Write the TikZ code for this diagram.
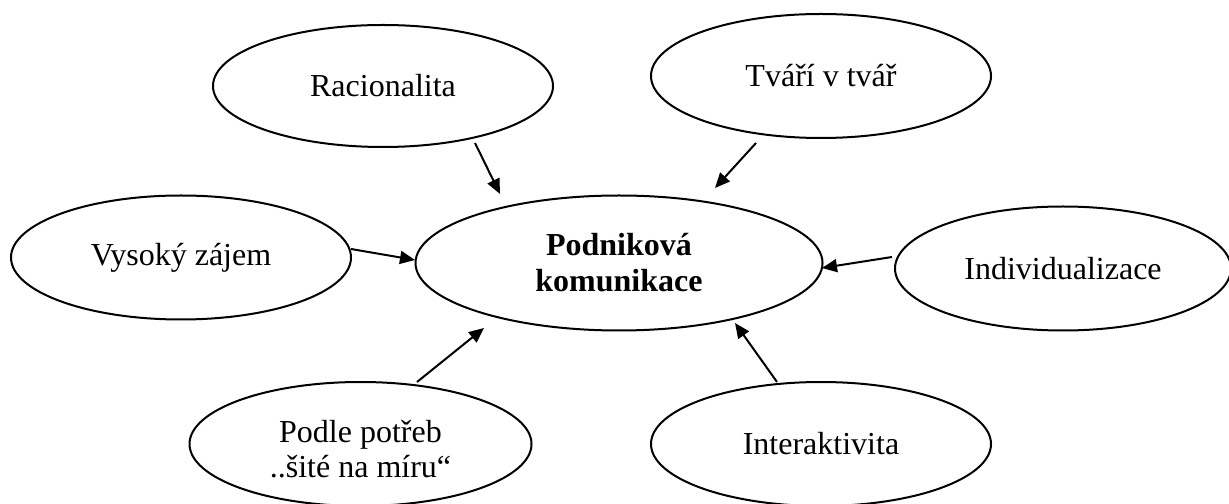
\documentclass[tikz,border=0pt]{standalone}
\usepackage{fontspec}
\setmainfont{Liberation Serif}
\usetikzlibrary{shapes.geometric,arrows.meta,calc}
\tikzset{
  bubble/.style={ellipse, draw, line width=1pt, inner sep=0pt, align=center,
    font=\fontsize{16}{17.5}\selectfont, minimum width=170pt, minimum height=62pt},
  link/.style={line width=1pt, -{Triangle[length=7.5pt,width=6.5pt]}}
}
\begin{document}
\begin{tikzpicture}[x=0.5pt,y=0.5pt]
\useasboundingbox (0,0) rectangle (1229,503);
\node[bubble, minimum width=170pt, minimum height=61pt] (rac) at (383,417) {Racionalita};
\node[bubble] (tva) at (821,427) {Tváří v tvář};
\node[bubble] (vys) at (181,245.5) {Vysoký zájem};
\node[bubble, minimum width=203.5pt, minimum height=67.5pt, font=\fontsize{16}{18}\selectfont\bfseries] (cen) at (619,240) {Podniková\\komunikace};
\node[bubble, minimum width=168pt] (ind) at (1063,234.5) {Individualizace};
\node[bubble, minimum width=171pt] (pod) at (360.5,59) {};
\node[align=center, font=\fontsize{16}{17.5}\selectfont] (podt) at (360.5,54) {Podle potřeb\\..šité na míru“};
\node[bubble] (int) at (821,59) {Interaktivita};
\draw[link] ($(rac)+(92,-57)$) -- ($(cen)+(-119,69)$);
\draw[link] ($(tva)+(-65,-67)$) -- ($(cen)+(96,75)$);
\draw[link] ($(vys)+(170,8.5)$) -- ($(cen)+(-204,3)$);
\draw[link] ($(ind)+(-171,11.5)$) -- ($(cen)+(203,-5)$);
\draw[link] ($(pod)+(56.5,62)$) -- ($(cen)+(-135,-65)$);
\draw[link] ($(int)+(-44,62)$) -- ($(cen)+(116,-60)$);
\end{tikzpicture}
\end{document}
